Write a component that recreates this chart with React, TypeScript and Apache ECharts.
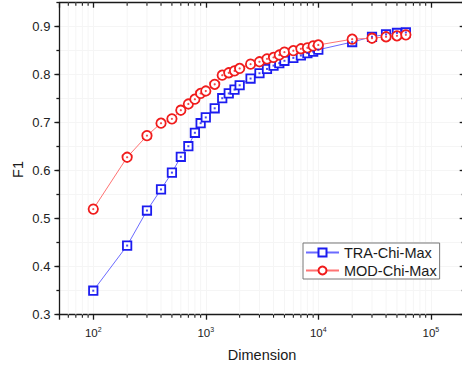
import React, { useEffect, useRef } from 'react';
import * as echarts from 'echarts';

const dimensions = [100, 200, 300, 400, 500, 600, 700, 800, 900, 1000, 1200, 1400, 1600, 1800, 2000, 2500, 3000, 3500, 4000, 4500, 5000, 6000, 7000, 8000, 9000, 10000, 20000, 30000, 40000, 50000, 60000];
const traChiMax = [0.350, 0.444, 0.517, 0.561, 0.596, 0.629, 0.651, 0.679, 0.699, 0.711, 0.730, 0.751, 0.761, 0.769, 0.778, 0.792, 0.803, 0.812, 0.819, 0.824, 0.829, 0.835, 0.840, 0.845, 0.848, 0.852, 0.868, 0.879, 0.884, 0.887, 0.888];
const modChiMax = [0.520, 0.628, 0.673, 0.699, 0.708, 0.726, 0.739, 0.749, 0.761, 0.766, 0.780, 0.799, 0.804, 0.808, 0.813, 0.822, 0.827, 0.833, 0.836, 0.841, 0.847, 0.850, 0.854, 0.856, 0.860, 0.862, 0.874, 0.876, 0.879, 0.881, 0.883];

const seriesNames = ['TRA-Chi-Max', 'MOD-Chi-Max'];
const yMajorTicks = [0.3, 0.4, 0.5, 0.6, 0.7, 0.8, 0.9];
const xDecades = [10, 100, 1000, 10000, 100000];
const xMinorMultipliers = [2, 3, 4, 5, 6, 7, 8, 9];

const X_MIN = 50;
const X_MAX = 200000;
const Y_MIN = 0.3;
const Y_MAX = 0.95;

const FONT = '"Liberation Sans", Arial, sans-serif';
const AXIS_COLOR = '#1a1a1a';
const GRID_COLOR = '#f5f5f5';
const BLUE = '#1c1cf0';
const RED = '#f01c1c';

const xMinorTicks: number[] = [];
xDecades.forEach((d) => {
  xMinorMultipliers.forEach((m) => {
    const v = d * m;
    if (v > X_MIN && v < X_MAX) xMinorTicks.push(v);
  });
});

function isPow10(v: number) {
  const e = Math.round(Math.log10(v));
  return Math.abs(Math.pow(10, e) - v) < 1e-6 * v;
}

export default function App() {
  const ref = useRef<HTMLDivElement>(null);
  useEffect(() => {
    if (!ref.current) return;
    const chart = echarts.init(ref.current, null, { renderer: 'svg' });
    const axisLineStyle = { color: AXIS_COLOR, width: 1.3 };
    const traData = dimensions.map((d, i) => [d, traChiMax[i]]);
    const modData = dimensions.map((d, i) => [d, modChiMax[i]]);
    const option: any = {
      animation: false,
      backgroundColor: '#ffffff',
      textStyle: { fontFamily: FONT },
      grid: { left: 59.4, right: 1.3, top: 2.7, bottom: 54.3, containLabel: false, outerBoundsMode: 'none' },
      legend: {
        data: seriesNames,
        orient: 'vertical',
        left: 303,
        top: 243,
        padding: [2, 3, 1, 2],
        itemGap: 3,
        itemWidth: 33,
        itemHeight: 10,
        backgroundColor: '#ffffff',
        borderColor: '#777',
        borderWidth: 1,
        borderRadius: 0,
        textStyle: { fontSize: 14.5, color: '#1a1a1a', fontFamily: FONT },
      },
      xAxis: [
        {
          type: 'log',
          logBase: 10,
          min: X_MIN,
          max: X_MAX,
          position: 'bottom',
          name: 'Dimension',
          nameLocation: 'middle',
          nameGap: 33,
          nameTextStyle: { fontSize: 14.5, color: '#1a1a1a', fontFamily: FONT },
          axisLine: { show: true, lineStyle: axisLineStyle },
          axisTick: { show: true, length: 5, lineStyle: axisLineStyle },
          axisLabel: {
            margin: 11,
            formatter: (v: number) => (isPow10(v) ? `{b|10}{s|${Math.round(Math.log10(v))}}` : ''),
            rich: {
              b: { fontSize: 11.5, color: '#222', fontFamily: FONT, lineHeight: 14 },
              s: { fontSize: 7, color: '#222', fontFamily: FONT, lineHeight: 8, verticalAlign: 'top' },
            },
          },
          splitLine: { show: true, lineStyle: { color: GRID_COLOR, width: 1 } },
        },
        {
          type: 'log',
          logBase: 10,
          min: X_MIN,
          max: X_MAX,
          position: 'top',
          axisLine: { show: true, lineStyle: axisLineStyle },
          axisTick: { show: true, inside: true, length: 5, lineStyle: axisLineStyle },
          axisLabel: { show: false },
          splitLine: { show: false },
        },
      ],
      yAxis: [
        {
          type: 'value',
          position: 'left',
          min: Y_MIN,
          max: Y_MAX,
          interval: 0.05,
          axisLine: { show: true, lineStyle: axisLineStyle },
          axisTick: { show: true, length: 3, lineStyle: axisLineStyle },
          axisLabel: {
            margin: 9,
            fontSize: 13,
            color: '#222',
            fontFamily: FONT,
            formatter: (v: number) => (yMajorTicks.some((t) => Math.abs(t - v) < 1e-6) ? v.toFixed(1) : ''),
          },
          splitLine: { show: true, lineStyle: { color: GRID_COLOR, width: 1 } },
        },
        {
          type: 'value',
          position: 'left',
          min: Y_MIN,
          max: Y_MAX,
          interval: 0.1,
          axisLine: { show: false },
          axisTick: { show: true, length: 5, lineStyle: axisLineStyle, customValues: yMajorTicks },
          axisLabel: { show: false },
          splitLine: { show: false },
        },
        {
          type: 'value',
          position: 'right',
          min: Y_MIN,
          max: Y_MAX,
          interval: 0.05,
          axisLine: { show: true, lineStyle: axisLineStyle },
          axisTick: { show: true, inside: true, length: 3, lineStyle: axisLineStyle },
          axisLabel: { show: false },
          splitLine: { show: false },
        },
        {
          type: 'value',
          position: 'right',
          min: Y_MIN,
          max: Y_MAX,
          interval: 0.1,
          axisLine: { show: false },
          axisTick: { show: true, inside: true, length: 5, lineStyle: axisLineStyle, customValues: yMajorTicks },
          axisLabel: { show: false },
          splitLine: { show: false },
        },
      ],
      graphic: [
        {
          type: 'text',
          x: 17.5,
          y: 169.5,
          rotation: Math.PI / 2,
          style: {
            text: 'F1',
            fontSize: 14.5,
            fontFamily: FONT,
            fill: '#1a1a1a',
            textAlign: 'center',
            textVerticalAlign: 'middle',
          },
        },
      ],
      series: [
        {
          type: 'custom',
          name: 'minorTicks',
          xAxisIndex: 0,
          yAxisIndex: 0,
          clip: false,
          silent: true,
          z: 1,
          data: xMinorTicks.map((v) => [v, Y_MIN]),
          encode: { x: 0, y: 1 },
          renderItem: (params: any, api: any) => {
            const v = api.value(0);
            const b = api.coord([v, Y_MIN]);
            const t = api.coord([v, Y_MAX]);
            const tickStyle = { stroke: AXIS_COLOR, lineWidth: 1.1 };
            return {
              type: 'group',
              children: [
                { type: 'line', shape: { x1: b[0], y1: b[1], x2: t[0], y2: t[1] }, style: { stroke: GRID_COLOR, lineWidth: 1 } },
                { type: 'line', shape: { x1: b[0], y1: b[1], x2: b[0], y2: b[1] + 3 }, style: tickStyle },
                { type: 'line', shape: { x1: t[0], y1: t[1], x2: t[0], y2: t[1] + 3 }, style: tickStyle },
              ],
            };
          },
        },
        {
          type: 'line',
          name: seriesNames[0],
          xAxisIndex: 0,
          yAxisIndex: 0,
          z: 3,
          data: traData,
          symbol: 'rect',
          symbolSize: 8.4,
          showSymbol: true,
          itemStyle: { color: '#ffffff', borderColor: BLUE, borderWidth: 1.8 },
          lineStyle: { color: '#6b6bff', width: 1 },
          emphasis: { disabled: true },
        },
        {
          type: 'line',
          name: seriesNames[1],
          xAxisIndex: 0,
          yAxisIndex: 0,
          z: 4,
          data: modData,
          symbol: 'circle',
          symbolSize: 9.4,
          showSymbol: true,
          itemStyle: { color: '#ffffff', borderColor: RED, borderWidth: 1.8 },
          lineStyle: { color: '#ff7373', width: 1 },
          emphasis: { disabled: true },
        },
        {
          type: 'scatter',
          name: 'traDots',
          xAxisIndex: 0,
          yAxisIndex: 0,
          z: 5,
          silent: true,
          data: traData,
          symbol: 'rect',
          symbolSize: 2,
          itemStyle: { color: BLUE },
        },
        {
          type: 'scatter',
          name: 'modDots',
          xAxisIndex: 0,
          yAxisIndex: 0,
          z: 6,
          silent: true,
          data: modData,
          symbol: 'circle',
          symbolSize: 2.2,
          itemStyle: { color: RED },
        },
      ],
    };
    chart.setOption(option);
    return () => chart.dispose();
  }, []);
  return (
    <div style={{ position: 'absolute', left: 0, top: 0, width: 462, height: 369, overflow: 'hidden', background: '#fff' }}>
      <div ref={ref} style={{ width: 466, height: 369 }} />
    </div>
  );
}
